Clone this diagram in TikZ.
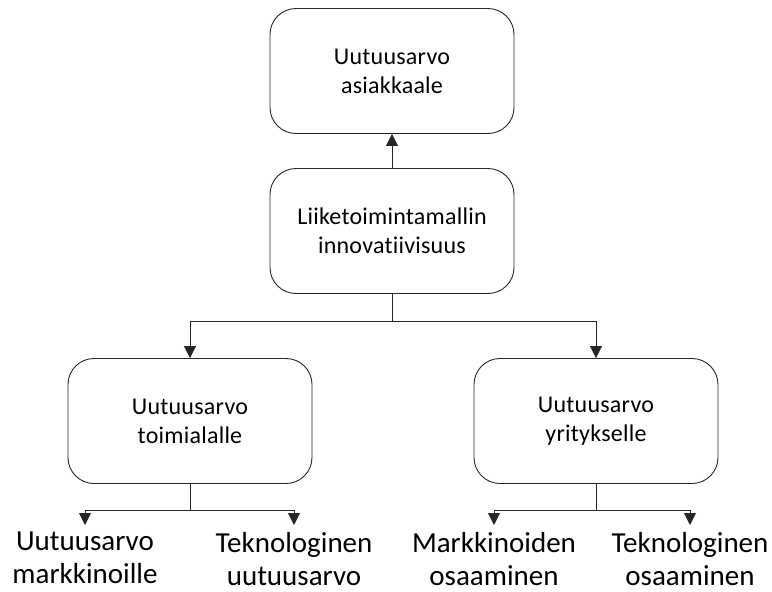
\documentclass[tikz,border=0pt]{standalone}
\usepackage{fontspec}
\setmainfont{Carlito}[RawFeature={-liga;-dlig}]
\usetikzlibrary{arrows.meta}
\begin{document}
\begin{tikzpicture}[x=1pt,y=-1pt,
  box/.style={draw=black!85, line width=0.9pt, rounded corners=26pt,
    minimum width=244pt, minimum height=125pt, align=center,
    font=\fontsize{24}{29}\selectfont\addfontfeatures{LetterSpace=1}},
  leaf/.style={align=center, anchor=north, inner sep=0pt,
    font=\fontsize{29}{33}\selectfont},
  link/.style={line width=0.9pt, draw=black!85},
  arr/.style={link, -{Triangle[width=12pt,length=12pt]}}]
\useasboundingbox (0,0) rectangle (772,592);

\node[box] (top) at (392,71) {Uutuusarvo\\asiakkaale};
\node[box] (mid) at (392,231) {Liiketoimintamallin\\innovatiivisuus};
\node[box] (lt) at (190,421) {Uutuusarvo\\toimialalle};
\node[box] (rt) at (596,421) {Uutuusarvo\\yritykselle};

\node[leaf] (l1) at (85,532) {Uutuusarvo\\markkinoille};
\node[leaf] (l2) at (294,532) {Teknologinen\\uutuusarvo};
\node[leaf] (l3) at (494,532) {Markkinoiden\\osaaminen};
\node[leaf] (l4) at (690,532) {Teknologinen\\osaaminen};

\draw[arr] (mid) -- (top);

\draw[link] (mid.south) -- ++(0,27) coordinate (j1);
\draw[arr] (j1) -| (lt);
\draw[arr] (j1) -| (rt);

\draw[link] (lt.south) -- ++(0,26) coordinate (j2);
\draw[arr, shorten >=7pt] (j2) -| (l1);
\draw[arr, shorten >=7pt] (j2) -| (l2);

\draw[link] (rt.south) -- ++(0,26) coordinate (j3);
\draw[arr, shorten >=7pt] (j3) -| (l3);
\draw[arr, shorten >=7pt] (j3) -| (l4);
\end{tikzpicture}
\end{document}
